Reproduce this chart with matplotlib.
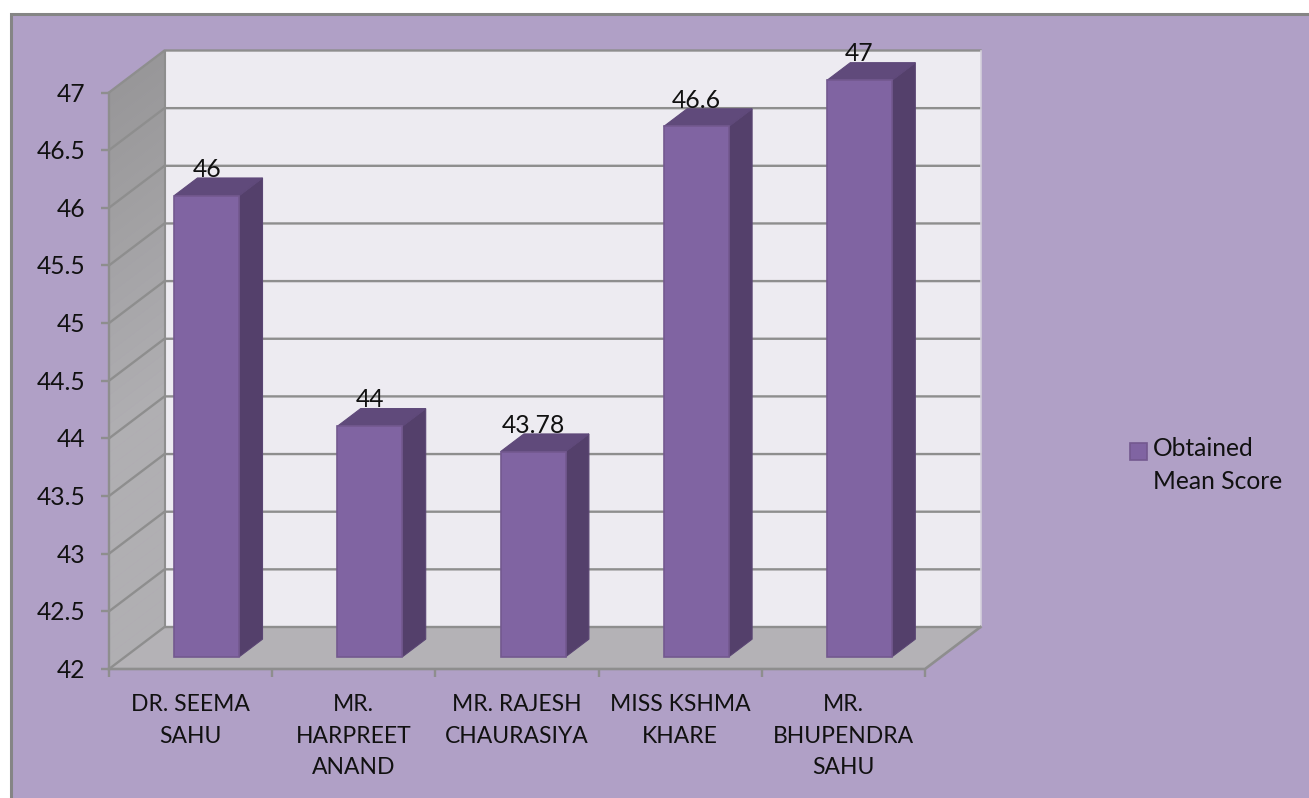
import matplotlib
matplotlib.use("Agg")
import matplotlib.pyplot as plt
from matplotlib.patches import Polygon, Rectangle
from matplotlib.transforms import ScaledTranslation
import numpy as np

categories = ["DR. SEEMA\nSAHU", "MR.\nHARPREET\nANAND", "MR. RAJESH\nCHAURASIYA",
              "MISS KSHMA\nKHARE", "MR.\nBHUPENDRA\nSAHU"]
scores = [46, 44, 43.78, 46.6, 47]
score_labels = ["46", "44", "43.78", "46.6", "47"]
y_ticks = [42, 42.5, 43, 43.5, 44, 44.5, 45, 45.5, 46, 46.5, 47]
y_tick_labels = ["42", "42.5", "43", "43.5", "44", "44.5", "45", "45.5", "46", "46.5", "47"]
series_name = "Obtained\nMean Score"

W, H = 1309, 798
plt.rcParams["font.family"] = ["Lato", "DejaVu Sans"]
BG = "#B0A0C6"; WALL = "#EDEBF1"; FLOOR = "#B4B2B6"; GRID = "#8E8E8E"; TXT = "#111111"
FRONT = "#8064A2"; SIDE = "#54406B"; TOP = "#604A7B"; EDGE = "#73598F"

fig = plt.figure(figsize=(W / 100, H / 100), dpi=100, facecolor="white")
fig.patches.append(Rectangle((11 / W, -0.1), 1.1, 1.1 - 14 / H, transform=fig.transFigure,
                             facecolor=BG, edgecolor="#858585", linewidth=2.2, zorder=-5))
L, R, T, B = 109, 925, 92.5, 669
ax = fig.add_axes([L / W, 1 - B / H, (R - L) / W, (B - T) / H])
ax.patch.set_visible(False)
ax.set_xlim(0, 5)
ax.set_ylim(42, 47)
for s in ax.spines.values():
    s.set_visible(False)

DX = 55.5 / ((R - L) / 5)
DY = 42 / ((B - T) / 5)
def pr(x, y, d):
    return (x + d * DX, y + d * DY)
def poly(pts, **kw):
    ax.add_patch(Polygon(pts, closed=True, clip_on=False, **kw))

# back wall
poly([pr(0, 42, 1), pr(5, 42, 1), pr(5, 47, 1), pr(0, 47, 1)], facecolor=WALL, edgecolor="none", zorder=1)
# side wall with a soft vertical fade
edges = np.linspace(42, 47, 41)
for lo, hi in zip(edges[:-1], edges[1:]):
    f = min(1, (47 - hi) / 3.0)
    c = np.array([0x98, 0x97, 0x99]) + f * np.array([0x18, 0x18, 0x19])
    poly([pr(0, lo, 0), pr(0, lo, 1), pr(0, hi, 1), pr(0, hi, 0)], facecolor=c / 255, edgecolor=c / 255,
         linewidth=0.3, zorder=1)
# floor
poly([pr(0, 42, 0), pr(5, 42, 0), pr(5, 42, 1), pr(0, 42, 1)], facecolor=FLOOR, edgecolor="none", zorder=1)

# gridlines
for v in y_ticks:
    (x0, y0), (x1, y1), (x2, y2) = pr(0, v, 0), pr(0, v, 1), pr(5, v, 1)
    ax.plot([x0, x1, x2], [y0, y1, y2], color=GRID, lw=1.7, clip_on=False, zorder=2, solid_joinstyle="miter")
ax.plot(*zip(pr(0, 42, 1), pr(0, 47, 1)), color="#8E8E8E", lw=1.5, clip_on=False, zorder=2)
ax.plot(*zip(pr(5, 42, 1), pr(5, 47, 1)), color="#D4D0DC", lw=1.2, clip_on=False, zorder=2)
ax.plot(*zip(pr(0, 42, 0), pr(0, 47, 0)), color=GRID, lw=1.7, clip_on=False, zorder=3)
ax.plot(*zip(pr(0, 42, 0), pr(5, 42, 0), pr(5, 42, 1)), color=GRID, lw=1.9, clip_on=False, zorder=3)

# bars
centers = np.arange(len(scores)) + 0.5
bw = 65 / ((R - L) / 5)
d0, d1 = 0.29, 0.71
base = 42 + d0 * DY
xs = centers + d0 * DX
tops = np.array(scores) + d0 * DY
ax.bar(xs, tops - base, bottom=base, width=bw, color=FRONT, edgecolor=EDGE, linewidth=1.2,
       zorder=5, label=series_name, clip_on=False)
for c, v, t in zip(centers, scores, score_labels):
    lft, rgt = c - bw / 2, c + bw / 2
    poly([pr(rgt, 42, d0), pr(rgt, 42, d1), pr(rgt, v, d1), pr(rgt, v, d0)], facecolor=SIDE, edgecolor="#5A4573", lw=0.8, zorder=4)
    poly([pr(lft, v, d0), pr(rgt, v, d0), pr(rgt, v, d1), pr(lft, v, d1)], facecolor=TOP, edgecolor="#5F497A", lw=0.8, zorder=4)
    ax.annotate(t, pr(c, v, d0), xytext=(0, 19), textcoords="offset points", ha="center", va="center",
                fontsize=17.8, color=TXT, zorder=8, annotation_clip=False)

# axes ticks
ax.set_yticks(y_ticks)
ax.set_yticklabels(y_tick_labels, fontsize=17.7, color=TXT)
ax.tick_params(axis="y", length=6, width=1.7, color=GRID, pad=11)
ax.set_xticks(range(6))
ax.set_xticklabels([])
ax.set_xticks(centers, labels=categories, minor=True, fontsize=16.5, color=TXT, linespacing=1.62)
ax.tick_params(axis="x", which="major", length=6, width=1.7, color=GRID)
ax.tick_params(axis="x", which="minor", length=0, pad=18)
shift_down = ScaledTranslation(0, -1.5 / 100, fig.dpi_scale_trans)
for lab in ax.get_yticklabels():
    lab.set_verticalalignment("center")
    lab.set_transform(lab.get_transform() + shift_down)

leg = ax.legend(loc="center left", bbox_to_anchor=(1130 / W, 1 - 465 / H), bbox_transform=fig.transFigure,
                frameon=False, fontsize=17.7, labelcolor=TXT, handlelength=0.70, handleheight=0.70,
                handletextpad=0.22, borderpad=0, borderaxespad=0, labelspacing=0)
for t in leg.get_texts():
    t.set_linespacing(1.5)
swatch = leg.get_patches()[0]
swatch.set_y(swatch.get_y() + 10.5)

fig.savefig("out.png", dpi=100, facecolor=fig.get_facecolor())
